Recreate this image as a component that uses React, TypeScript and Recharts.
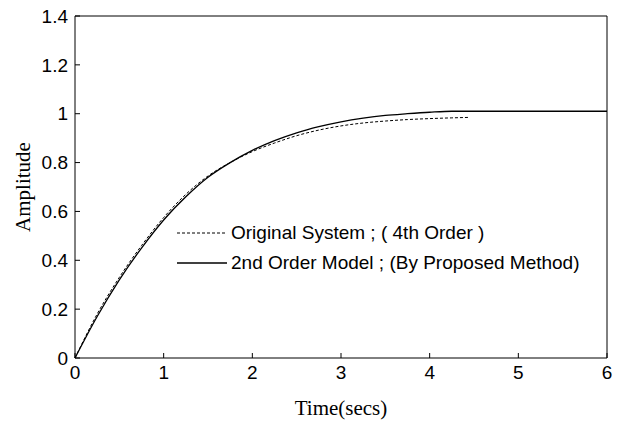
import { LineChart, Line, XAxis, YAxis, Legend } from 'recharts';

const timeModel = [0, 0.25, 0.5, 0.75, 1, 1.25, 1.5, 1.75, 2, 2.25, 2.5, 2.75, 3, 3.25, 3.5, 3.75, 4, 4.25, 4.5, 5, 5.5, 6];
const ampModel = [0, 0.17, 0.32, 0.45, 0.565, 0.66, 0.74, 0.8, 0.85, 0.89, 0.922, 0.947, 0.967, 0.982, 0.993, 1.0, 1.006, 1.01, 1.01, 1.01, 1.01, 1.01];

const timeOrig = [0, 0.25, 0.5, 0.75, 1, 1.25, 1.5, 1.75, 2, 2.25, 2.5, 2.75, 3, 3.25, 3.5, 3.75, 4, 4.25, 4.45];
const ampOrig = [0, 0.18, 0.33, 0.46, 0.575, 0.67, 0.745, 0.8, 0.845, 0.88, 0.91, 0.933, 0.95, 0.962, 0.97, 0.976, 0.98, 0.983, 0.985];

const xTicks = [0, 1, 2, 3, 4, 5, 6];
const yTicks = [0, 0.2, 0.4, 0.6, 0.8, 1, 1.2, 1.4];

const modelData = timeModel.map((t, i) => ({ t, y: ampModel[i] }));
const origData = timeOrig.map((t, i) => ({ t, y: ampOrig[i] }));

const tickFont = { fill: '#000', fontSize: 19, fontFamily: "'Liberation Sans', Arial, sans-serif" };
const labelFont = { fill: '#000', fontSize: 21, fontFamily: "'Liberation Serif', 'Times New Roman', serif" };

const LegendBox = () => (
  <div style={{ fontFamily: "'Liberation Sans', Arial, sans-serif", fontSize: 19, color: '#000', lineHeight: '30px', whiteSpace: 'nowrap' }}>
    <div style={{ display: 'flex', alignItems: 'center' }}>
      <svg width={53} height={4}>
        <line x1={0} y1={2} x2={50} y2={2} stroke="#000" strokeWidth={1} strokeDasharray="3 2" />
      </svg>
      <span style={{ marginLeft: 1 }}>Original System ; ( 4th Order )</span>
    </div>
    <div style={{ display: 'flex', alignItems: 'center' }}>
      <svg width={53} height={4}>
        <line x1={0} y1={2} x2={50} y2={2} stroke="#000" strokeWidth={1.3} />
      </svg>
      <span style={{ marginLeft: 1 }}>2nd Order Model ; (By Proposed Method)</span>
    </div>
  </div>
);

export default function App() {
  return (
    <div style={{ position: 'absolute', left: 0, top: 0, background: '#fff' }}>
      <LineChart width={622} height={423} margin={{ top: 15, right: 14, bottom: 0, left: 0 }}>
        <XAxis
          type="number"
          dataKey="t"
          domain={[0, 6]}
          ticks={xTicks}
          height={65}
          tickSize={-5}
          tickMargin={13}
          tick={tickFont}
          stroke="#000"
          label={{ value: 'Time(secs)', position: 'insideBottom', offset: 8, style: labelFont }}
        />
        <XAxis
          xAxisId="top"
          orientation="top"
          type="number"
          dataKey="t"
          domain={[0, 6]}
          ticks={xTicks}
          height={1}
          tickSize={-5}
          tick={false}
          stroke="#000"
        />
        <YAxis
          type="number"
          domain={[0, 1.4]}
          ticks={yTicks}
          width={75}
          tickSize={-5}
          tickMargin={12}
          tick={tickFont}
          stroke="#000"
          label={{ value: 'Amplitude', angle: -90, position: 'insideLeft', offset: 23, style: { ...labelFont, textAnchor: 'middle' } }}
        />
        <YAxis
          yAxisId="right"
          orientation="right"
          type="number"
          domain={[0, 1.4]}
          ticks={yTicks}
          width={1}
          tickSize={-5}
          tick={false}
          stroke="#000"
        />
        <Legend
          layout="vertical"
          align="center"
          verticalAlign="middle"
          content={<LegendBox />}
          wrapperStyle={{ left: 177, top: 218, width: 'auto' }}
        />
        {/* hidden series so the top and right frame axes get drawn */}
        <Line data={modelData} dataKey="y" xAxisId="top" yAxisId="right" stroke="none" dot={false} activeDot={false} legendType="none" isAnimationActive={false} />
        <Line data={origData} dataKey="y" type="monotone" stroke="#000" strokeWidth={1} strokeDasharray="3 2" dot={false} isAnimationActive={false} />
        <Line data={modelData} dataKey="y" type="monotone" stroke="#000" strokeWidth={1.3} dot={false} isAnimationActive={false} />
      </LineChart>
    </div>
  );
}
